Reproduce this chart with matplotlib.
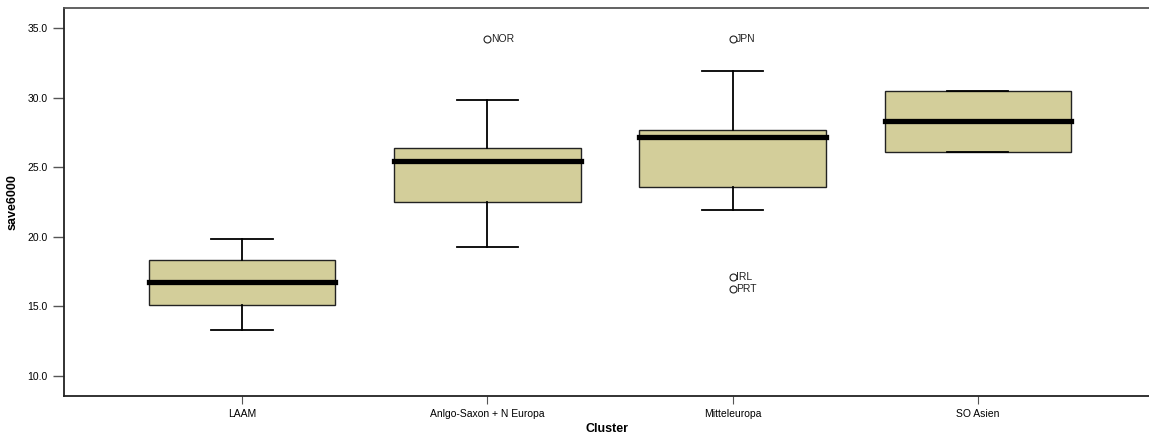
import matplotlib
matplotlib.use("Agg")
import matplotlib.pyplot as plt

plt.rcParams['font.family'] = ['Liberation Sans', 'DejaVu Sans']

categories = ["LAAM", "Anlgo-Saxon + N Europa", "Mitteleuropa", "SO Asien"]
whislo = [13.3, 19.25, 21.9, 26.1]
q1 = [15.1, 22.5, 23.6, 26.1]
med = [16.75, 25.45, 27.2, 28.3]
q3 = [18.3, 26.4, 27.7, 30.5]
whishi = [19.85, 29.8, 31.9, 30.5]
outlier_values = [[], [34.2], [34.2, 17.1, 16.25], []]
outlier_labels = [[], ["NOR"], ["JPN", "IRL", "PRT"], []]
yticks = [10.0, 15.0, 20.0, 25.0, 30.0, 35.0]

fig = plt.figure(figsize=(11.49, 4.36), dpi=100)
ax = fig.add_axes([64/1149, 40/436, 1 - 64/1149, 388/436])

stats = []
for i, c in enumerate(categories):
    stats.append(dict(label=c, whislo=whislo[i], q1=q1[i], med=med[i], q3=q3[i],
                      whishi=whishi[i], fliers=outlier_values[i]))

pos = list(range(len(categories)))
ax.bxp(stats, positions=pos, widths=0.76, patch_artist=True, showfliers=True,
       boxprops=dict(facecolor='#D3CE9A', edgecolor='#222222', linewidth=1.0),
       medianprops=dict(color='black', linewidth=3.8, solid_capstyle='projecting'),
       whiskerprops=dict(color='black', linewidth=1.3),
       capprops=dict(color='black', linewidth=1.3),
       capwidths=0.25,
       flierprops=dict(marker='o', markersize=5, markerfacecolor='none',
                       markeredgecolor='#222222', markeredgewidth=0.8, linestyle='none'))

for i in range(len(categories)):
    for v, lab in zip(outlier_values[i], outlier_labels[i]):
        ax.annotate(lab, (pos[i], v), xytext=(2.5, 0), textcoords='offset points',
                    ha='left', va='center', fontsize=7.5, color='#222222')

ax.set_xlim(-0.726, 3.698)
ax.set_ylim(8.56, 36.44)
ax.set_yticks(yticks)
ax.set_yticklabels([f"{t:.1f}" for t in yticks], fontsize=7.5)
ax.set_xticks(pos)
ax.set_xticklabels(categories, fontsize=7.5)
ax.tick_params(axis='y', length=8, width=1, color='#555555', pad=4)
ax.tick_params(axis='x', length=6, width=0.8, color='#555555', pad=3)
ax.spines['right'].set_visible(False)
for s in ['left', 'bottom']:
    ax.spines[s].set_linewidth(1.3)
    ax.spines[s].set_color('#222222')
ax.spines['top'].set_linewidth(1.3)
ax.spines['top'].set_color('#555555')
ax.set_ylabel("save6000", fontsize=9, fontweight='bold', labelpad=6)
ax.set_xlabel("Cluster", fontsize=9, fontweight='bold', labelpad=3)

fig.savefig("out.png", dpi=100)
